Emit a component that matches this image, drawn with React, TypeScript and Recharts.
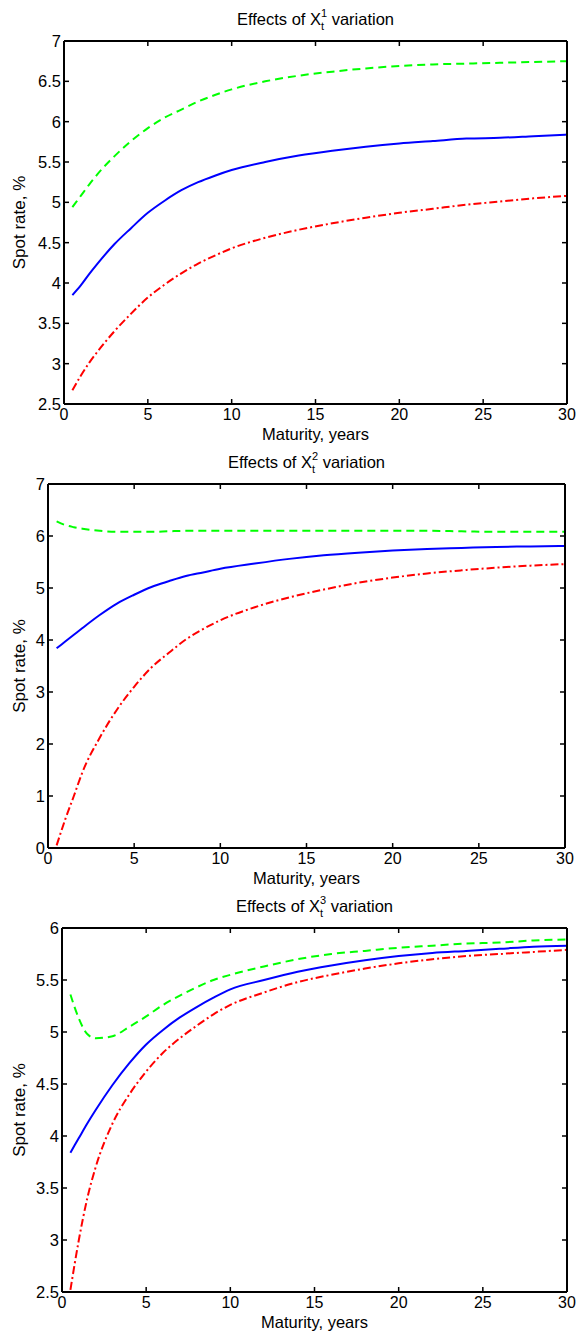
import React from "react";
import { LineChart, Line, XAxis, YAxis, Label } from "recharts";

// maturities (years) shared by all three panels
const maturity = [0.5, 1, 1.5, 2, 3, 4, 5, 6, 7, 8, 9, 10, 12, 14, 16, 18, 20, 22, 24, 26, 28, 30];
const xTicks = [0, 5, 10, 15, 20, 25, 30];

// panel 1: X^1 variation
const x1Base = [3.85, 3.97, 4.11, 4.24, 4.48, 4.68, 4.87, 5.02, 5.15, 5.25, 5.33, 5.4, 5.5, 5.58, 5.64, 5.69, 5.73, 5.76, 5.79, 5.8, 5.82, 5.84];
const x1Up = [4.94, 5.08, 5.22, 5.35, 5.57, 5.76, 5.92, 6.05, 6.15, 6.25, 6.33, 6.4, 6.5, 6.57, 6.62, 6.66, 6.69, 6.71, 6.72, 6.73, 6.74, 6.75];
const x1Down = [2.67, 2.85, 3.01, 3.15, 3.4, 3.62, 3.82, 3.98, 4.12, 4.24, 4.34, 4.43, 4.56, 4.66, 4.74, 4.81, 4.87, 4.92, 4.97, 5.01, 5.05, 5.08];
const x1Ticks = [2.5, 3, 3.5, 4, 4.5, 5, 5.5, 6, 6.5, 7];

// panel 2: X^2 variation
const x2Base = [3.84, 3.97, 4.1, 4.23, 4.48, 4.7, 4.87, 5.02, 5.13, 5.23, 5.3, 5.37, 5.47, 5.56, 5.63, 5.68, 5.72, 5.75, 5.77, 5.79, 5.8, 5.81];
const x2Up = [6.28, 6.21, 6.17, 6.14, 6.1, 6.08, 6.08, 6.08, 6.09, 6.1, 6.1, 6.1, 6.1, 6.1, 6.1, 6.1, 6.1, 6.1, 6.09, 6.08, 6.08, 6.08];
const x2Down = [0.05, 0.55, 1.0, 1.46, 2.12, 2.66, 3.1, 3.47, 3.75, 4.01, 4.21, 4.38, 4.63, 4.82, 4.97, 5.1, 5.2, 5.28, 5.34, 5.39, 5.43, 5.46];
const x2Ticks = [0, 1, 2, 3, 4, 5, 6, 7];

// panel 3: X^3 variation
const x3Base = [3.84, 3.98, 4.12, 4.25, 4.49, 4.7, 4.88, 5.02, 5.14, 5.24, 5.33, 5.41, 5.5, 5.58, 5.64, 5.69, 5.73, 5.76, 5.78, 5.8, 5.82, 5.83];
const x3Up = [5.36, 5.13, 4.98, 4.94, 4.96, 5.05, 5.15, 5.26, 5.35, 5.43, 5.5, 5.55, 5.63, 5.7, 5.75, 5.78, 5.81, 5.83, 5.85, 5.86, 5.88, 5.89];
const x3Down = [2.52, 3.0, 3.4, 3.7, 4.12, 4.4, 4.62, 4.8, 4.94, 5.06, 5.17, 5.26, 5.38, 5.48, 5.55, 5.61, 5.66, 5.7, 5.73, 5.75, 5.77, 5.79];
const x3Ticks = [2.5, 3, 3.5, 4, 4.5, 5, 5.5, 6];

const FONT = '"Liberation Sans", Arial, Helvetica, sans-serif';
const W = 580;
const H = 444;
const TICK_LEN = 5;
const Y_GAP = 3;
const X_GAP = 5;
const AXIS = { stroke: "#000", strokeWidth: 2 };

function toRows(base: number[], up: number[], down: number[]) {
  return maturity.map((m, i) => ({ m, base: base[i], up: up[i], down: down[i] }));
}

function YTick(props: any) {
  const { x, y, payload } = props;
  const ax = x + Y_GAP;
  return (
    <g>
      <line x1={ax} x2={ax + TICK_LEN} y1={y} y2={y} stroke="#000" strokeWidth={1.5} />
      <text x={x} y={y} dy="0.36em" textAnchor="end" fontSize={16.5} fill="#000" fontFamily={FONT}>
        {payload.value}
      </text>
    </g>
  );
}

function XTick(props: any) {
  const { x, y, payload } = props;
  const ay = y - X_GAP;
  return (
    <g>
      <line x1={x} x2={x} y1={ay} y2={ay - TICK_LEN} stroke="#000" strokeWidth={1.5} />
      <text x={x} y={y} dy="0.71em" textAnchor="middle" fontSize={16} fill="#000" fontFamily={FONT}>
        {payload.value}
      </text>
    </g>
  );
}

function NoLabel() {
  return <g />;
}

interface PanelProps {
  top: number;
  idx: string;
  rows: { m: number; base: number; up: number; down: number }[];
  yDomain: [number, number];
  yTicks: number[];
  plotTop: number;
  yWidth: number;
  right: number;
}

function Panel({ top, idx, rows, yDomain, yTicks, plotTop, yWidth, right }: PanelProps) {
  const cx = (yWidth + W - right) / 2;
  return (
    <div style={{ position: "absolute", left: 0, top, width: W, height: H }}>
      <LineChart width={W} height={H} data={rows} margin={{ top: plotTop, right, bottom: 0, left: 0 }}>
        <XAxis
          xAxisId="b"
          type="number"
          dataKey="m"
          domain={[0, 30]}
          ticks={xTicks}
          interval={0}
          allowDataOverflow
          height={40}
          tickSize={0}
          tickMargin={X_GAP}
          tickLine={false}
          axisLine={AXIS}
          tick={<XTick />}
        >
          <Label value="Maturity, years" position="insideBottom" offset={4} fontSize={16.5} fill="#000" />
        </XAxis>
        <XAxis
          xAxisId="t"
          orientation="top"
          mirror
          type="number"
          dataKey="m"
          domain={[0, 30]}
          ticks={xTicks}
          interval={0}
          allowDataOverflow
          height={1}
          tickSize={TICK_LEN}
          tickLine={{ stroke: "#000", strokeWidth: 1.5 }}
          axisLine={AXIS}
          tick={<NoLabel />}
        />
        <YAxis
          yAxisId="l"
          type="number"
          domain={yDomain}
          ticks={yTicks}
          interval={0}
          allowDataOverflow
          width={yWidth}
          tickSize={0}
          tickMargin={Y_GAP}
          tickLine={false}
          axisLine={AXIS}
          tick={<YTick />}
        >
          <Label
            value="Spot rate, %"
            angle={-90}
            position="insideLeft"
            offset={19}
            fontSize={17}
            fill="#000"
            style={{ textAnchor: "middle" }}
          />
        </YAxis>
        <YAxis
          yAxisId="r"
          orientation="right"
          mirror
          type="number"
          domain={yDomain}
          ticks={yTicks}
          interval={0}
          allowDataOverflow
          width={1}
          tickSize={TICK_LEN}
          tickLine={{ stroke: "#000", strokeWidth: 1.5 }}
          axisLine={AXIS}
          tick={<NoLabel />}
        />
        <Line
          xAxisId="t"
          yAxisId="r"
          type="monotone"
          dataKey="up"
          stroke="#00ff00"
          strokeWidth={2}
          strokeDasharray="8 5"
          dot={false}
          isAnimationActive={false}
        />
        <Line
          xAxisId="b"
          yAxisId="l"
          type="monotone"
          dataKey="down"
          stroke="#ff0000"
          strokeWidth={2}
          strokeDasharray="8 3 2 3"
          dot={false}
          isAnimationActive={false}
        />
        <Line
          xAxisId="b"
          yAxisId="l"
          type="monotone"
          dataKey="base"
          stroke="#0000ff"
          strokeWidth={2}
          dot={false}
          isAnimationActive={false}
        />
      </LineChart>
      <svg width={W} height={plotTop} style={{ position: "absolute", left: 0, top: 0 }}>
        <text x={cx} y={plotTop - 16} textAnchor="middle" fontSize={16.5} fill="#000" fontFamily={FONT}>
          Effects of X
          <tspan fontSize={11} dy={-8}>{idx}</tspan>
          <tspan fontSize={11} dx={-6.1} dy={13}>t</tspan>
          <tspan dx={3} dy={-5}>{" variation"}</tspan>
        </text>
      </svg>
    </div>
  );
}

export default function App() {
  return (
    <div
      style={{
        position: "absolute",
        left: 0,
        top: 0,
        width: W,
        height: 1332,
        background: "#fff",
        fontFamily: FONT,
      }}
    >
      <Panel top={0} idx="1" rows={toRows(x1Base, x1Up, x1Down)} yDomain={[2.5, 7]} yTicks={x1Ticks} plotTop={41} yWidth={64} right={13} />
      <Panel top={444} idx="2" rows={toRows(x2Base, x2Up, x2Down)} yDomain={[0, 7]} yTicks={x2Ticks} plotTop={40} yWidth={48} right={15} />
      <Panel top={888} idx="3" rows={toRows(x3Base, x3Up, x3Down)} yDomain={[2.5, 6]} yTicks={x3Ticks} plotTop={40} yWidth={62} right={13} />
    </div>
  );
}
